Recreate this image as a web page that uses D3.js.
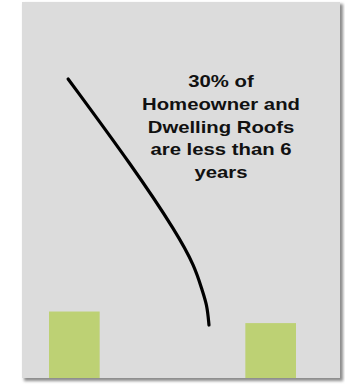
<!DOCTYPE html>
<html>
<head>
<meta charset="utf-8">
<script src="https://cdn.jsdelivr.net/npm/d3@7"></script>
<style>
  body { margin: 0; background: #fff; }
</style>
</head>
<body>
<div id="chart"></div>
<script>
/* CONSTANTS AND GLOBALS */
const width = 345,
  height = 385,
  panel = { x: 22, y: 2, w: 318, h: 376 };

// bars (% of roofs)
const categories = ["Group A", "Group B"];
const values = [36, 30];

// callout text
const noteLines = ["30% of", "Homeowner and", "Dwelling Roofs", "are less than 6", "years"];

// callout curve, in chart units (x: 0-100 across panel, y: same units as bars)
const curveX = [14.5, 34.9, 48.7, 54.4, 56.6, 58.2, 58.8];
const curveY = [156.5, 110.9, 76.7, 59.1, 47.2, 39.4, 29];

const svg = d3.select("#chart")
  .append("svg")
  .attr("width", width)
  .attr("height", height);

const defs = svg.append("defs");
const blur = defs.append("filter").attr("id", "shadow")
  .attr("x", "-5%").attr("y", "-5%").attr("width", "115%").attr("height", "115%");
blur.append("feGaussianBlur").attr("stdDeviation", 1.5);

// + SCALES
const xScale = d3.scaleBand()
  .domain(categories)
  .range([49, 296])
  .paddingInner(0.742)
  .paddingOuter(0);

const yScale = d3.scaleLinear()
  .domain([0, 100])
  .range([panel.y + panel.h + 3, panel.y + panel.h + 3 - 193]);

const xNote = d3.scaleLinear()
  .domain([0, 100])
  .range([panel.x, panel.x + panel.w]);

// + PANEL + SHADOW
svg.append("rect")
  .attr("x", panel.x + 2)
  .attr("y", panel.y + 2)
  .attr("width", panel.w + 1)
  .attr("height", panel.h + 1)
  .attr("fill", "#8a8a8a")
  .attr("filter", "url(#shadow)");

svg.append("rect")
  .attr("x", panel.x)
  .attr("y", panel.y)
  .attr("width", panel.w)
  .attr("height", panel.h)
  .attr("fill", "#dcdcdc");

const clip = defs.append("clipPath").attr("id", "clip");
clip.append("rect")
  .attr("x", panel.x).attr("y", panel.y)
  .attr("width", panel.w).attr("height", panel.h);

// + BARS
svg.append("g")
  .attr("clip-path", "url(#clip)")
  .selectAll("rect")
  .data(values)
  .join("rect")
  .attr("x", (d, i) => xScale(categories[i]))
  .attr("y", d => yScale(d))
  .attr("width", xScale.bandwidth())
  .attr("height", d => yScale(0) - yScale(d))
  .attr("fill", "#bdd174");

// + CALLOUT LINE
const lineGen = d3.line()
  .x(d => xNote(d[0]))
  .y(d => yScale(d[1]))
  .curve(d3.curveBasis);

svg.append("path")
  .datum(curveX.map((x, i) => [x, curveY[i]]))
  .attr("fill", "none")
  .attr("stroke", "#000")
  .attr("stroke-width", 3.2)
  .attr("stroke-linecap", "round")
  .attr("d", lineGen);

// + CALLOUT TEXT
const note = svg.append("g")
  .attr("transform", `translate(221, 0) scale(1.27, 1)`);

note.selectAll("text")
  .data(noteLines)
  .join("text")
  .attr("x", 0)
  .attr("y", (d, i) => 87 + i * 22.8)
  .attr("text-anchor", "middle")
  .attr("font-family", "Liberation Sans, Arial, sans-serif")
  .attr("font-weight", "bold")
  .attr("font-size", 16)
  .attr("fill", "#111")
  .text(d => d);
</script>
</body>
</html>
